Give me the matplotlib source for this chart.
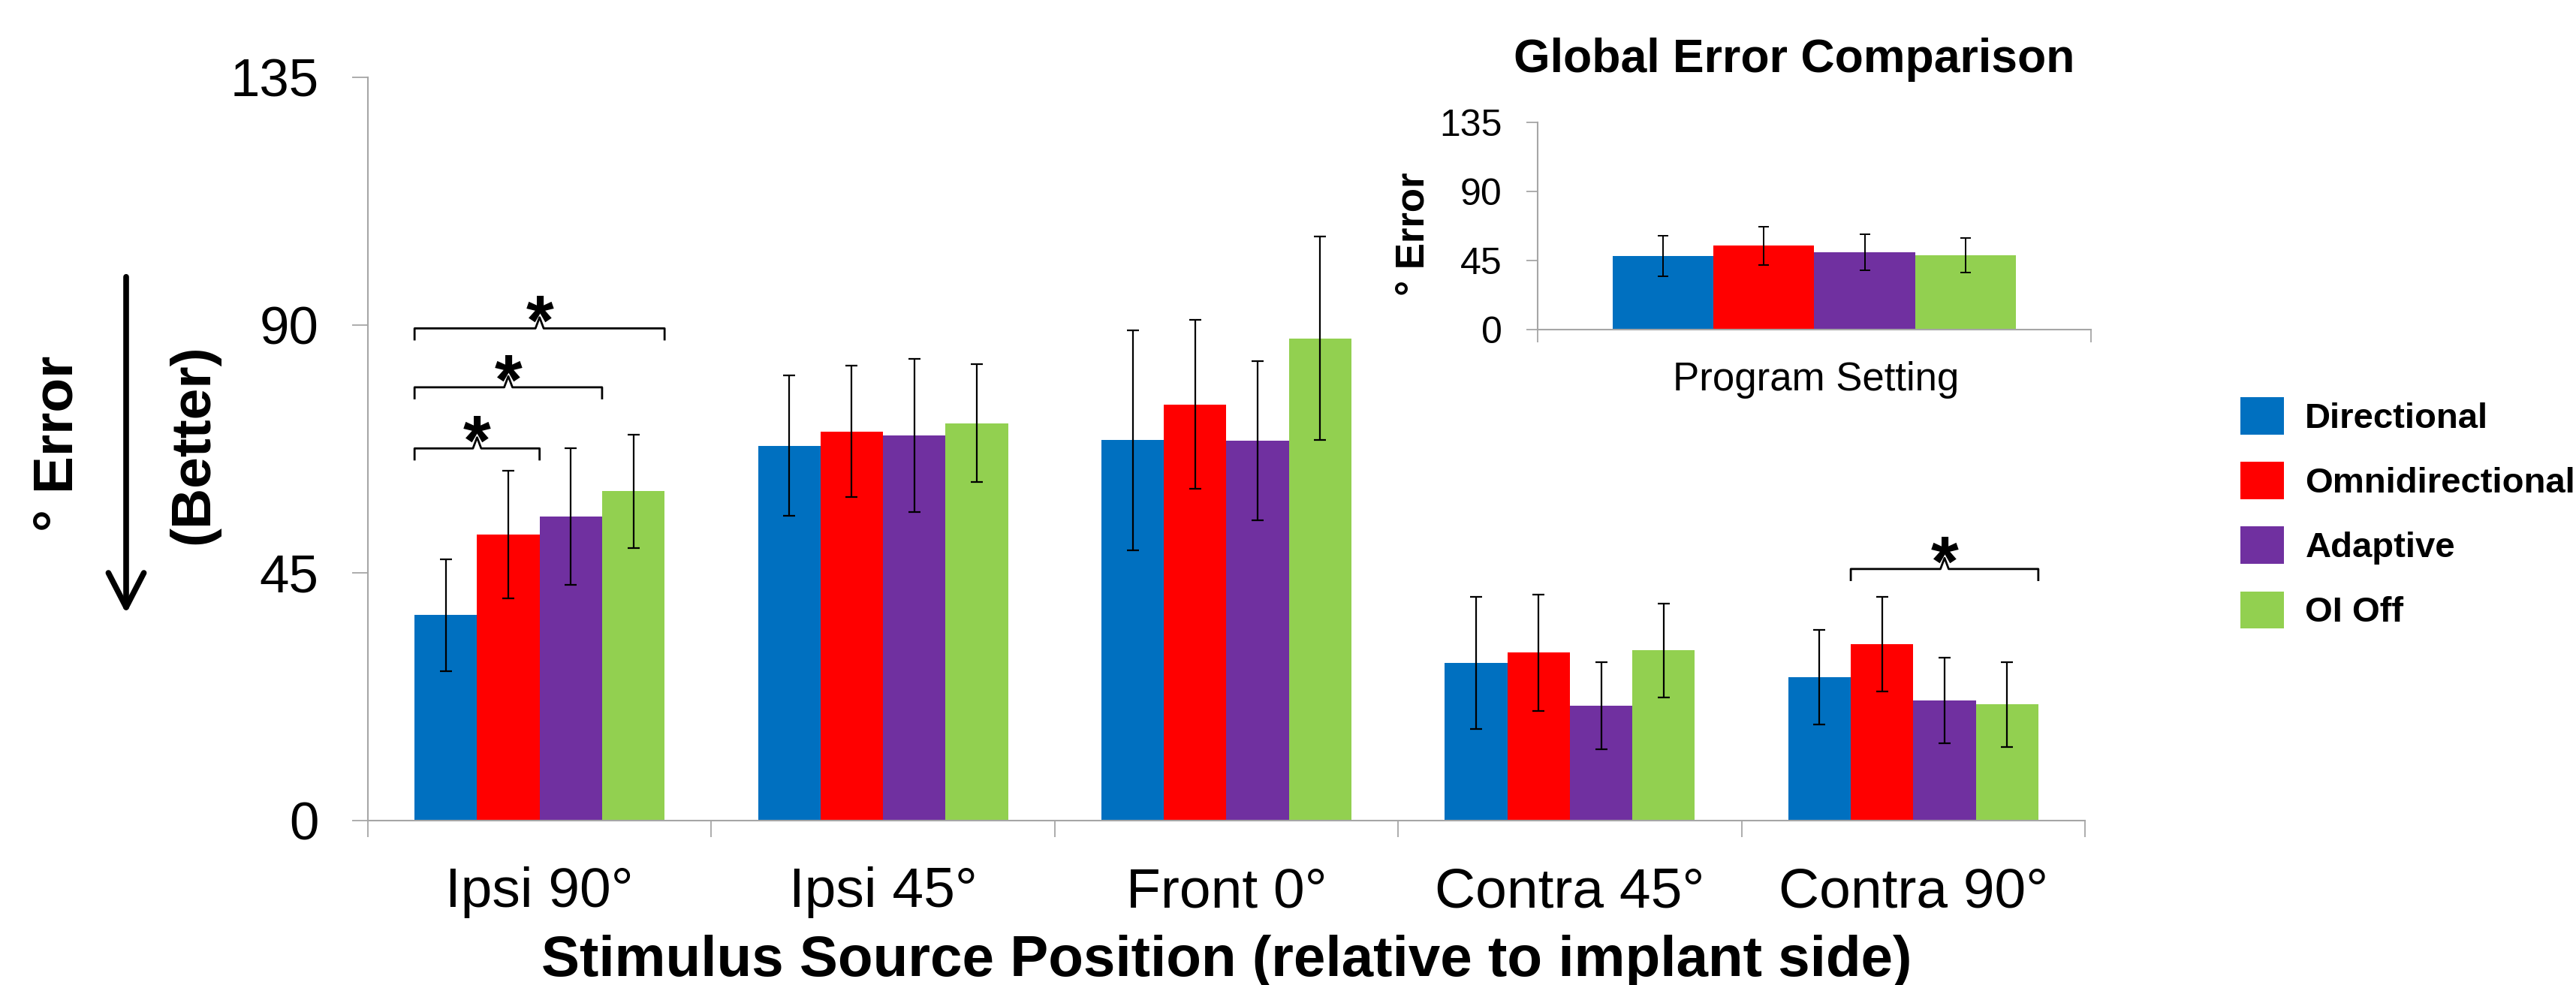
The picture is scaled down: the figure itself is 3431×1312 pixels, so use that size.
import numpy as np
import matplotlib
matplotlib.use("Agg")
import matplotlib.pyplot as plt
from matplotlib.patches import FancyArrowPatch

plt.rcParams['font.family'] = ['Liberation Sans', 'DejaVu Sans']

# data (degrees of error, mean +/- error bar)
categories = ["Ipsi 90°", "Ipsi 45°", "Front 0°", "Contra 45°", "Contra 90°"]
settings = ["Directional", "Omnidirectional", "Adaptive", "OI Off"]
colors = ["#0070C0", "#FF0000", "#7030A0", "#92D050"]

directional = [37.3, 68.1, 69.1, 28.6, 26.0]
directional_err = [10.2, 12.7, 20.0, 12.0, 8.6]
omni = [51.9, 70.7, 75.6, 30.5, 32.0]
omni_err = [11.6, 11.9, 15.3, 10.6, 8.6]
adaptive = [55.2, 70.0, 69.0, 20.9, 21.8]
adaptive_err = [12.4, 13.9, 14.5, 7.9, 7.8]
oi_off = [59.8, 72.2, 87.6, 30.9, 21.1]
oi_off_err = [10.3, 10.7, 18.5, 8.5, 7.7]

global_mean = [47.8, 54.7, 50.3, 48.3]
global_err = [13.4, 12.5, 12.0, 11.1]

# significance brackets: (category, first setting, second setting, height)
sig_pairs = [(0, 0, 1, 67.6), (0, 0, 2, 78.7), (0, 0, 3, 89.4), (4, 1, 3, 45.7)]

means = [directional, omni, adaptive, oi_off]
errs = [directional_err, omni_err, adaptive_err, oi_off_err]

axis_grey = "#A6A6A6"
w = 0.182

fig = plt.figure(figsize=(34.31, 13.12), dpi=100)

# ---- main chart
ax = fig.add_axes([0.1428, 0.1669, 0.6666, 0.7546])
x = np.arange(len(categories))
handles = []
for i in range(4):
    b = ax.bar(x + (i - 1.5) * w, means[i], w, color=colors[i], label=settings[i],
               yerr=errs[i], zorder=2,
               error_kw=dict(ecolor="black", elinewidth=1.6, capsize=6, capthick=1.6))
    handles.append(b)

ax.set_xlim(-0.5, 4.5)
ax.set_ylim(0, 135)
ax.set_yticks([0, 45, 90, 135])
ax.set_xticks(x)
ax.set_xticklabels(categories, fontsize=54)
ax.set_xticks(np.arange(-0.5, 5, 1), minor=True)
ax.tick_params(axis="y", length=15, width=1.3, color=axis_grey, pad=32, labelsize=51)
ax.tick_params(axis="x", which="major", length=0, pad=44)
ax.tick_params(axis="x", which="minor", length=16, width=1.3, color=axis_grey)
for s in ["top", "right"]:
    ax.spines[s].set_visible(False)
for s in ["left", "bottom"]:
    ax.spines[s].set_color(axis_grey)
    ax.spines[s].set_linewidth(1.5)


def draw_bracket(a, x0, x1, y, h=2.0):
    xm = (x0 + x1) / 2
    a.plot([x0, x0, xm - 0.012, xm, xm + 0.012, x1, x1],
           [y - h, y, y, y + h, y, y, y - h], color="black", lw=2, zorder=3)
    a.text(xm, y + 0.4, "*", ha="center", va="center", fontsize=68, fontweight="bold")


for cat, i, j, y in sig_pairs:
    x0 = cat + (i - 1.5) * w - w / 2
    x1 = cat + (j - 1.5) * w + w / 2
    draw_bracket(ax, x0, x1, y)

fig.text(0.4762, 0.0091, "Stimulus Source Position (relative to implant side)",
         ha="center", va="baseline", fontsize=55, fontweight="bold")
fig.text(0.0224, 0.550, "° Error", rotation=90, ha="center", va="center",
         fontsize=54, fontweight="bold")
fig.text(0.0752, 0.549, "(Better)", rotation=90, ha="center", va="center",
         fontsize=54, fontweight="bold")
arrow = FancyArrowPatch((168 / 3431, 1 - 366 / 1312), (168 / 3431, 1 - 820 / 1312),
                        transform=fig.transFigure, arrowstyle="->,head_length=3.3,head_width=1.7",
                        mutation_scale=10, lw=5.5, color="black")
fig.patches.append(arrow)

# ---- inset: global comparison
axin = fig.add_axes([0.5969, 0.6657, 0.2148, 0.2099])
for i in range(4):
    axin.bar((i - 1.5) * w, global_mean[i], w, color=colors[i], yerr=global_err[i], zorder=2,
             error_kw=dict(ecolor="black", elinewidth=1.4, capsize=5, capthick=1.4))
axin.set_xlim(-0.5, 0.5)
axin.set_ylim(0, 135)
axin.set_yticks([0, 45, 90, 135])
axin.set_xticks([])
axin.set_xticks([-0.5, 0.5], minor=True)
axin.tick_params(axis="y", length=11, width=1.3, color=axis_grey, pad=23, labelsize=36)
axin.tick_params(axis="x", which="minor", length=12, width=1.3, color=axis_grey)
for s in ["top", "right"]:
    axin.spines[s].set_visible(False)
for s in ["left", "bottom"]:
    axin.spines[s].set_color(axis_grey)
    axin.spines[s].set_linewidth(1.5)

fig.text(0.6966, 0.9265, "Global Error Comparison", ha="center", va="baseline",
         fontsize=45, fontweight="bold")
fig.text(0.7048, 0.604, "Program Setting", ha="center", va="baseline", fontsize=38)
fig.text(0.5488, 0.7625, "° Error", rotation=90, ha="center", va="center",
         fontsize=38, fontweight="bold")

# ---- legend
fig.legend(handles=handles, labels=settings, loc="upper left",
           bbox_to_anchor=(0.8697, 0.597), frameon=False, borderpad=0,
           borderaxespad=0, handlelength=1.23, handleheight=1.25,
           labelspacing=0.75, handletextpad=0.6,
           prop=dict(size=34, weight="bold"))

fig.savefig("out.png", dpi=100)
